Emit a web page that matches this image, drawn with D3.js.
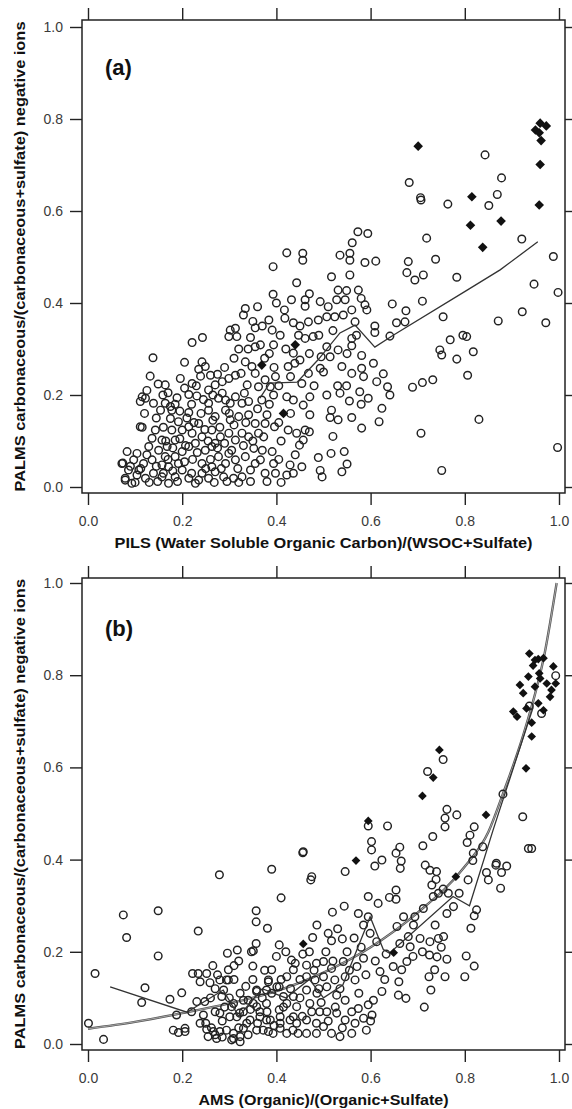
<!DOCTYPE html>
<html>
<head>
<meta charset="utf-8">
<script src="https://cdn.jsdelivr.net/npm/d3@7"></script>
<style>
  body { margin: 0; background: #fff; }
  text { font-family: "Liberation Sans", Arial, sans-serif; }
</style>
</head>
<body>
<svg id="chart" width="572" height="1109"></svg>
<script>
// Tick values shared by both panels
const xTicks = [0, 0.2, 0.4, 0.6, 0.8, 1.0];
const yTicks = [0, 0.2, 0.4, 0.6, 0.8, 1.0];

// Panel (a): PILS ratio vs PALMS ratio, open circles
const pilsOpen = [
  [0.393,0.479],[0.393,0.419],[0.360,0.392],[0.334,0.388],[0.330,0.374],[0.355,0.346],[0.384,0.363],[0.391,0.341],
  [0.302,0.341],[0.313,0.345],[0.299,0.327],[0.316,0.327],[0.345,0.325],[0.355,0.305],[0.366,0.309],[0.394,0.309],
  [0.221,0.314],[0.243,0.325],[0.138,0.281],[0.205,0.271],[0.242,0.272],[0.249,0.262],[0.235,0.256],[0.260,0.243],
  [0.334,0.272],[0.348,0.262],[0.313,0.243],[0.325,0.247],[0.355,0.247],[0.132,0.241],[0.149,0.224],[0.164,0.222],
  [0.196,0.236],[0.221,0.225],[0.239,0.241],[0.115,0.196],[0.122,0.193],[0.111,0.186],[0.159,0.200],[0.175,0.175],
  [0.154,0.167],[0.189,0.194],[0.214,0.201],[0.231,0.198],[0.256,0.211],[0.270,0.222],[0.285,0.204],[0.292,0.189],
  [0.277,0.193],[0.332,0.204],[0.327,0.182],[0.341,0.186],[0.369,0.189],[0.394,0.200],[0.214,0.162],[0.175,0.149],
  [0.192,0.142],[0.111,0.131],[0.256,0.167],[0.270,0.153],[0.292,0.167],[0.302,0.146],[0.320,0.153],[0.341,0.157],
  [0.355,0.138],[0.376,0.138],[0.380,0.157],[0.396,0.131],[0.136,0.106],[0.157,0.102],[0.129,0.088],[0.150,0.080],
  [0.168,0.088],[0.178,0.124],[0.200,0.124],[0.221,0.117],[0.235,0.138],[0.242,0.109],[0.263,0.124],[0.281,0.109],
  [0.299,0.117],[0.313,0.102],[0.327,0.117],[0.341,0.109],[0.362,0.117],[0.373,0.109],[0.083,0.077],[0.104,0.073],
  [0.097,0.059],[0.072,0.051],[0.118,0.051],[0.136,0.059],[0.164,0.066],[0.185,0.066],[0.200,0.077],[0.214,0.088],
  [0.228,0.095],[0.249,0.080],[0.263,0.088],[0.277,0.066],[0.299,0.073],[0.313,0.059],[0.334,0.066],[0.352,0.084],
  [0.366,0.059],[0.391,0.077],[0.394,0.051],[0.079,0.019],[0.093,0.008],[0.104,0.026],[0.122,0.019],[0.139,0.030],
  [0.157,0.022],[0.171,0.008],[0.185,0.022],[0.200,0.037],[0.214,0.019],[0.228,0.008],[0.242,0.030],[0.256,0.019],
  [0.270,0.033],[0.288,0.022],[0.309,0.019],[0.327,0.022],[0.345,0.037],[0.355,0.051],[0.376,0.030],[0.398,0.030],
  [0.171,0.044],[0.192,0.051],[0.086,0.037],[0.108,0.037],[0.157,0.048],[0.242,0.051],[0.263,0.044],[0.292,0.051],
  [0.185,0.102],[0.214,0.131],[0.143,0.124],[0.270,0.095],[0.178,0.167],[0.139,0.182],[0.164,0.182],[0.256,0.182],
  [0.302,0.182],[0.313,0.196],[0.285,0.229],[0.299,0.236],[0.376,0.233],[0.398,0.240],[0.387,0.218],[0.362,0.218],
  [0.338,0.222],[0.074,0.052],[0.115,0.130],[0.079,0.015],
  [0.090,0.045],[0.100,0.010],[0.112,0.040],[0.125,0.070],[0.130,0.010],[0.145,0.045],[0.148,0.012],[0.160,0.030],
  [0.165,0.100],[0.170,0.060],[0.180,0.085],[0.180,0.035],[0.190,0.012],[0.195,0.105],[0.205,0.055],[0.207,0.090],
  [0.210,0.150],[0.220,0.030],[0.222,0.060],[0.225,0.140],[0.232,0.075],[0.235,0.015],[0.240,0.160],[0.248,0.125],
  [0.250,0.040],[0.255,0.100],[0.260,0.060],[0.265,0.145],[0.268,0.010],[0.275,0.085],[0.280,0.130],[0.283,0.040],
  [0.290,0.095],[0.295,0.012],[0.300,0.160],[0.305,0.080],[0.310,0.135],[0.318,0.040],[0.320,0.010],[0.330,0.090],
  [0.335,0.140],[0.345,0.012],[0.350,0.100],[0.360,0.170],[0.370,0.080],[0.380,0.012],[0.385,0.180],[0.120,0.160],
  [0.125,0.210],[0.145,0.150],[0.160,0.130],[0.170,0.205],[0.185,0.180],[0.195,0.165],[0.205,0.215],[0.220,0.180],
  [0.230,0.220],[0.245,0.190],[0.265,0.200],[0.275,0.245],[0.290,0.260],[0.310,0.280],[0.320,0.300],[0.340,0.300],
  [0.350,0.360],[0.370,0.350],[0.375,0.280],[0.385,0.290],[0.395,0.260],[0.405,0.220],[0.405,0.140],[0.410,0.100],
  [0.405,0.060],[0.410,0.010],[0.400,0.400],[0.408,0.330],
  [0.707,0.624],[0.764,0.615],[0.573,0.555],[0.594,0.551],[0.719,0.541],[0.561,0.531],[0.422,0.509],[0.456,0.508],
  [0.456,0.493],[0.535,0.504],[0.556,0.508],[0.556,0.493],[0.588,0.488],[0.611,0.491],[0.680,0.490],[0.738,0.495],
  [0.677,0.466],[0.694,0.450],[0.712,0.461],[0.783,0.456],[0.517,0.457],[0.556,0.461],[0.443,0.444],[0.531,0.428],
  [0.549,0.427],[0.574,0.428],[0.432,0.407],[0.461,0.407],[0.461,0.393],[0.493,0.403],[0.510,0.392],[0.528,0.407],
  [0.546,0.407],[0.588,0.396],[0.592,0.385],[0.646,0.398],[0.675,0.383],[0.710,0.404],[0.754,0.370],[0.417,0.385],
  [0.436,0.357],[0.418,0.367],[0.468,0.359],[0.489,0.363],[0.507,0.370],[0.524,0.370],[0.542,0.374],[0.560,0.385],
  [0.567,0.359],[0.609,0.350],[0.609,0.336],[0.655,0.357],[0.673,0.359],[0.641,0.328],[0.447,0.330],[0.461,0.323],
  [0.478,0.327],[0.507,0.305],[0.531,0.298],[0.560,0.323],[0.560,0.307],[0.769,0.320],[0.747,0.298],[0.751,0.287],
  [0.783,0.278],[0.436,0.291],[0.450,0.276],[0.495,0.283],[0.514,0.283],[0.581,0.286],[0.606,0.269],[0.425,0.262],
  [0.439,0.269],[0.468,0.247],[0.493,0.258],[0.539,0.262],[0.560,0.247],[0.581,0.258],[0.627,0.246],[0.585,0.240],
  [0.613,0.229],[0.636,0.218],[0.641,0.200],[0.549,0.220],[0.471,0.196],[0.507,0.200],[0.535,0.204],[0.577,0.207],
  [0.595,0.193],[0.555,0.187],[0.689,0.217],[0.710,0.227],[0.732,0.233],[0.454,0.225],[0.422,0.196],[0.436,0.189],
  [0.457,0.178],[0.471,0.157],[0.517,0.167],[0.514,0.151],[0.531,0.146],[0.560,0.151],[0.581,0.128],[0.618,0.142],
  [0.624,0.171],[0.707,0.117],[0.425,0.124],[0.443,0.117],[0.461,0.124],[0.457,0.102],[0.449,0.091],[0.489,0.064],
  [0.516,0.073],[0.544,0.077],[0.493,0.036],[0.497,0.022],[0.539,0.033],[0.751,0.036],[0.454,0.044],[0.429,0.048],
  [0.436,0.030],[0.422,0.026],
  [0.420,0.300],[0.430,0.240],[0.450,0.350],[0.470,0.290],[0.480,0.220],[0.490,0.330],[0.500,0.250],[0.520,0.340],
  [0.530,0.220],[0.550,0.290],[0.570,0.330],[0.580,0.410],[0.470,0.420],[0.430,0.160],[0.470,0.120],[0.520,0.110],
  [0.550,0.050],[0.440,0.070],[0.580,0.180],
  [0.843,0.722],[0.682,0.662],[0.706,0.629],[0.878,0.672],[0.869,0.636],[0.851,0.612],[0.921,0.539],[0.988,0.501],
  [0.947,0.441],[0.998,0.423],[0.922,0.381],[0.972,0.357],[0.871,0.361],[0.796,0.330],[0.804,0.327],[0.818,0.294],
  [0.806,0.243],[0.830,0.147],[0.997,0.086]
];

// Panel (a): filled diamonds
const pilsFilled = [
  [0.369,0.265],[0.415,0.160],[0.440,0.309],[0.701,0.741],[0.815,0.631],[0.812,0.569],[0.877,0.578],[0.838,0.521],
  [0.960,0.791],[0.950,0.776],[0.973,0.785],[0.962,0.753],[0.958,0.770],[0.960,0.701],[0.958,0.613]
];

// Panel (a): binned average line
const pilsLine = [
  [0.365,0.193],[0.386,0.226],[0.444,0.228],[0.488,0.276],[0.535,0.335],[0.567,0.352],[0.609,0.304],[0.648,0.330],
  [0.805,0.428],[0.875,0.472],[0.955,0.533]
];

// Panel (b): AMS ratio vs PALMS ratio, open circles
const amsOpen = [
  [0.001,0.045],[0.015,0.153],[0.033,0.010],[0.075,0.280],[0.082,0.231],[0.121,0.122],[0.114,0.090],[0.149,0.289],
  [0.149,0.191],[0.174,0.097],[0.199,0.111],[0.188,0.063],[0.181,0.030],[0.192,0.025],[0.206,0.034],[0.234,0.245],
  [0.222,0.153],[0.234,0.153],[0.252,0.153],[0.238,0.135],[0.259,0.133],[0.280,0.139],[0.298,0.161],[0.294,0.139],
  [0.279,0.367],[0.296,0.197],[0.317,0.204],[0.231,0.092],[0.220,0.070],[0.238,0.045],[0.252,0.032],[0.266,0.027],
  [0.280,0.027],[0.255,0.016],[0.273,0.012],[0.294,0.030],[0.309,0.012],[0.323,0.016],[0.245,0.063],[0.270,0.070],
  [0.284,0.103],[0.305,0.081],[0.316,0.059],[0.330,0.070],[0.337,0.045],[0.351,0.088],[0.365,0.070],[0.358,0.030],
  [0.379,0.052],[0.372,0.030],[0.393,0.023],[0.408,0.045],[0.422,0.023],[0.436,0.059],[0.351,0.202],[0.350,0.169],
  [0.357,0.289],[0.357,0.265],[0.357,0.218],[0.381,0.251],[0.390,0.379],[0.410,0.317],[0.406,0.215],[0.390,0.161],
  [0.383,0.135],[0.401,0.124],[0.358,0.114],[0.340,0.095],[0.323,0.110],[0.422,0.146],[0.432,0.182],[0.415,0.103],
  [0.436,0.103],[0.457,0.417],
  [0.473,0.356],[0.544,0.299],[0.519,0.286],[0.486,0.258],[0.510,0.240],[0.517,0.224],[0.540,0.228],[0.477,0.231],
  [0.456,0.195],[0.464,0.171],[0.485,0.175],[0.500,0.179],[0.517,0.164],[0.542,0.179],[0.464,0.146],[0.482,0.139],
  [0.500,0.146],[0.524,0.139],[0.546,0.146],[0.464,0.117],[0.486,0.110],[0.507,0.124],[0.528,0.106],[0.546,0.095],
  [0.471,0.088],[0.492,0.070],[0.507,0.070],[0.528,0.067],[0.546,0.052],[0.464,0.052],[0.485,0.045],[0.500,0.038],
  [0.517,0.023],[0.464,0.023],[0.485,0.023],[0.535,0.016],[0.446,0.023],[0.443,0.045],
  [0.347,0.200],[0.298,0.139],[0.383,0.139],[0.436,0.161],[0.358,0.117],[0.379,0.117],[0.406,0.124],[0.248,0.092],
  [0.309,0.088],[0.330,0.095],[0.358,0.081],[0.379,0.088],[0.406,0.074],[0.422,0.088],[0.443,0.081],[0.280,0.067],
  [0.301,0.059],[0.322,0.067],[0.344,0.052],[0.365,0.059],[0.387,0.052],[0.408,0.059],[0.429,0.052],[0.309,0.023],
  [0.330,0.034],[0.383,0.027],[0.408,0.034],[0.305,0.009],[0.323,0.005],[0.206,0.027],[0.288,0.117],[0.456,0.415],
  [0.475,0.363],[0.546,0.374],
  [0.250,0.045],[0.262,0.035],[0.270,0.020],[0.285,0.015],[0.260,0.100],[0.270,0.120],[0.300,0.100],[0.310,0.140],
  [0.320,0.035],[0.335,0.125],[0.340,0.020],[0.345,0.075],[0.350,0.140],[0.360,0.045],[0.370,0.100],[0.375,0.160],
  [0.380,0.070],[0.390,0.110],[0.395,0.040],[0.400,0.190],[0.410,0.140],[0.415,0.080],[0.420,0.200],[0.430,0.120],
  [0.435,0.030],[0.440,0.175],[0.450,0.100],[0.450,0.140],[0.455,0.060],[0.470,0.200],[0.475,0.070],[0.480,0.160],
  [0.490,0.120],[0.495,0.090],[0.505,0.200],[0.510,0.050],[0.520,0.180],[0.525,0.080],[0.530,0.250],[0.535,0.120],
  [0.540,0.035],[0.550,0.200],[0.555,0.160],[0.560,0.070],[0.565,0.230],[0.575,0.110],[0.580,0.210],[0.590,0.150],
  [0.600,0.050],[0.610,0.180],[0.630,0.140],[0.660,0.135],[0.690,0.190],[0.710,0.200],[0.750,0.210],
  [0.310,0.170],[0.320,0.180],[0.265,0.170],[0.275,0.150],[0.285,0.050],[0.290,0.080],
  [0.762,0.509],[0.783,0.497],[0.758,0.490],[0.758,0.471],[0.923,0.493],[0.636,0.473],[0.595,0.473],[0.820,0.471],
  [0.811,0.453],[0.805,0.437],[0.838,0.428],[0.817,0.398],[0.818,0.414],[0.732,0.450],[0.711,0.430],[0.602,0.439],
  [0.602,0.421],[0.662,0.427],[0.654,0.414],[0.665,0.397],[0.663,0.381],[0.624,0.399],[0.609,0.386],[0.935,0.424],
  [0.866,0.388],[0.889,0.386],[0.878,0.372],[0.846,0.372],[0.850,0.356],[0.876,0.338],[0.716,0.388],[0.726,0.377],
  [0.740,0.374],[0.739,0.357],[0.807,0.356],[0.788,0.327],[0.730,0.345],[0.754,0.336],[0.765,0.327],[0.733,0.320],
  [0.744,0.327],[0.776,0.298],[0.762,0.283],[0.712,0.294],[0.694,0.276],[0.825,0.291],[0.820,0.278],[0.813,0.251],
  [0.654,0.334],[0.640,0.318],[0.654,0.314],[0.595,0.320],[0.616,0.305],[0.574,0.283],[0.595,0.276],[0.585,0.258],
  [0.670,0.276],[0.656,0.255],[0.691,0.258],[0.737,0.258],[0.680,0.233],[0.705,0.229],[0.726,0.222],[0.744,0.229],
  [0.755,0.233],[0.599,0.240],[0.613,0.222],[0.662,0.218],[0.684,0.211],[0.725,0.193],[0.741,0.189],[0.762,0.184],
  [0.803,0.191],[0.820,0.169],[0.800,0.146],[0.758,0.146],[0.736,0.161],[0.724,0.146],[0.633,0.195],[0.677,0.179],
  [0.648,0.168],[0.666,0.161],[0.620,0.157],[0.585,0.186],[0.571,0.168],[0.567,0.139],[0.624,0.114],[0.659,0.106],
  [0.675,0.099],[0.728,0.117],[0.714,0.080],[0.606,0.095],[0.595,0.085],[0.574,0.077],[0.603,0.063],[0.585,0.056],
  [0.567,0.045],[0.591,0.030],[0.560,0.023],
  [0.942,0.424],[0.867,0.392],[0.993,0.799],[0.937,0.733],[0.963,0.717],[0.754,0.617],[0.721,0.591],[0.881,0.542]
];

// Panel (b): filled diamonds
const amsFilled = [
  [0.457,0.217],[0.569,0.398],[0.595,0.484],[0.649,0.198],[0.781,0.363],[0.845,0.497],[0.746,0.638],[0.733,0.578],
  [0.710,0.538],[0.930,0.598],[0.942,0.667],[0.942,0.697],[0.937,0.847],[0.949,0.833],[0.956,0.835],[0.967,0.837],
  [0.945,0.821],[0.988,0.819],[0.935,0.797],[0.958,0.804],[0.960,0.793],[0.917,0.779],[0.924,0.761],[0.949,0.775],
  [0.974,0.782],[0.993,0.782],[0.984,0.768],[0.981,0.753],[0.931,0.728],[0.903,0.721],[0.911,0.710],[0.956,0.739],
  [0.967,0.724]
];

// Panel (b): binned average line and smooth fit curve
const amsLine = [
  [0.047,0.124],[0.21,0.069],[0.287,0.117],[0.32,0.060],[0.37,0.120],[0.42,0.100],[0.47,0.140],[0.50,0.100],
  [0.541,0.128],[0.599,0.276],[0.627,0.205],[0.64,0.197],[0.775,0.320],[0.81,0.300],[0.86,0.464],[0.945,0.730]
];
const amsFit = [
  [0,0.033],[0.1,0.048],[0.2,0.067],[0.3,0.088],[0.4,0.115],[0.5,0.155],[0.6,0.21],[0.7,0.285],
  [0.8,0.385],[0.85,0.46],[0.88,0.54],[0.93,0.69],[0.97,0.85],[0.995,1.0]
];

const yTitle = "PALMS carbonaceous/(carbonaceous+sulfate) negative ions";

const svg = d3.select("#chart");
svg.append("rect").attr("width", 572).attr("height", 1109).attr("fill", "#fff");

// Frame sits 6px outside the 0..1 data range on every side
const pad = 6;

function drawPanel(p) {
  const x = d3.scaleLinear().domain([0, 1]).range([88, 559]);
  const y = d3.scaleLinear().domain([0, 1]).range([p.y0, p.y1]);

  const left = x(0) - pad, right = x(1) + pad;
  const top = y(1) - p.padTop, bottom = y(0) + pad;

  const g = svg.append("g");

  // axes on all four sides, ticks pointing out
  const fmt = d3.format(".1f");
  const axes = [
    [d3.axisBottom(x).tickValues(xTicks).tickFormat(fmt).tickPadding(11), `translate(0,${bottom})`],
    [d3.axisTop(x).tickValues(xTicks).tickFormat(""), `translate(0,${top})`],
    [d3.axisLeft(y).tickValues(yTicks).tickFormat(fmt).tickPadding(7), `translate(${left},0)`],
    [d3.axisRight(y).tickValues(yTicks).tickFormat(""), `translate(${right},0)`]
  ];
  axes.forEach(function(a) {
    const ax = g.append("g")
      .attr("transform", a[1])
      .call(a[0].tickSize(12).tickSizeOuter(0));
    ax.select(".domain").remove();
    ax.selectAll("line").attr("stroke", "#222").attr("stroke-width", 1.4);
    ax.selectAll("text")
      .attr("fill", "#3a3a3a")
      .style("font-size", "14px")
      .style("font-family", '"Liberation Sans", Arial, sans-serif');
  });

  g.append("rect")
    .attr("x", left).attr("y", top)
    .attr("width", right - left).attr("height", bottom - top)
    .attr("fill", "none").attr("stroke", "#222").attr("stroke-width", 1.5);

  const line = d3.line().x(d => x(d[0])).y(d => y(d[1]));

  if (p.fit) {
    const smooth = d3.line().x(d => x(d[0])).y(d => y(d[1])).curve(d3.curveMonotoneX);
    g.append("path").datum(p.fit)
      .attr("d", smooth).attr("fill", "none")
      .attr("stroke", "#555").attr("stroke-width", 2.4);
    g.append("path").datum(p.fit)
      .attr("d", smooth).attr("fill", "none")
      .attr("stroke", "#bbb").attr("stroke-width", 0.8);
  }

  g.selectAll("circle.open")
    .data(p.open)
    .enter()
    .append("circle")
    .attr("class", "open")
    .attr("cx", d => x(d[0]))
    .attr("cy", d => y(d[1]))
    .attr("r", 3.8)
    .attr("fill", "none")
    .attr("stroke", "#222")
    .attr("stroke-width", 1.45);

  g.append("path").datum(p.line)
    .attr("d", line).attr("fill", "none")
    .attr("stroke", "#333").attr("stroke-width", 1.3);

  const diamond = d3.symbol().type(d3.symbolSquare).size(p.diamondSize);
  g.selectAll("path.filled")
    .data(p.filled)
    .enter()
    .append("path")
    .attr("class", "filled")
    .attr("d", diamond)
    .attr("transform", d => `translate(${x(d[0])},${y(d[1])}) rotate(45)`)
    .attr("fill", "#111");

  // panel letter
  g.append("text")
    .attr("x", 105).attr("y", p.letterY)
    .style("font-size", "22px").style("font-weight", "bold")
    .attr("fill", "#111")
    .text(p.letter);

  // axis titles
  g.append("text")
    .attr("x", (left + right) / 2).attr("y", p.xTitleY)
    .attr("text-anchor", "middle")
    .style("font-size", "14px").style("font-weight", "bold")
    .attr("fill", "#111")
    .attr("textLength", p.xTitleLen).attr("lengthAdjust", "spacingAndGlyphs")
    .text(p.xTitle);

  g.append("text")
    .attr("transform", `translate(25,${(top + bottom) / 2}) rotate(-90)`)
    .attr("text-anchor", "middle")
    .style("font-size", "14px").style("font-weight", "bold")
    .attr("fill", "#111")
    .attr("textLength", 470).attr("lengthAdjust", "spacingAndGlyphs")
    .text(yTitle);
}

drawPanel({
  y0: 487, y1: 27, padTop: 7,
  open: pilsOpen, filled: pilsFilled, line: pilsLine, fit: null,
  diamondSize: 46,
  letter: "(a)", letterY: 75,
  xTitle: "PILS (Water Soluble Organic Carbon)/(WSOC+Sulfate)", xTitleY: 548, xTitleLen: 418
});

drawPanel({
  y0: 1044, y1: 583, padTop: 5,
  open: amsOpen, filled: amsFilled, line: amsLine, fit: amsFit,
  diamondSize: 38,
  letter: "(b)", letterY: 636,
  xTitle: "AMS (Organic)/(Organic+Sulfate)", xTitleY: 1105, xTitleLen: 250
});
</script>
</body>
</html>
